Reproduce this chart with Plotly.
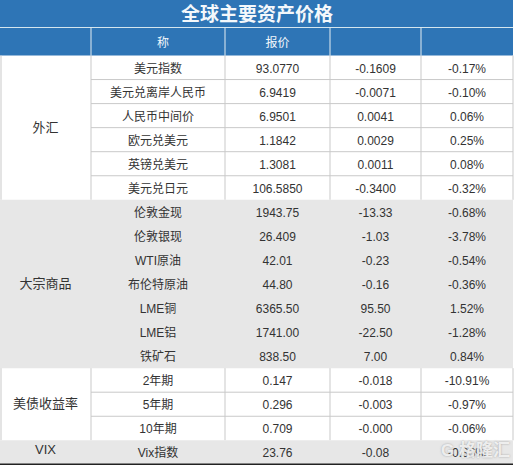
import plotly.graph_objs as go

groups = ['外汇', '大宗商品', '美债收益率', 'VIX']
group_sizes = [6, 7, 3, 1]
names = ['美元指数', '美元兑离岸人民币', '人民币中间价', '欧元兑美元', '英镑兑美元', '美元兑日元',
         '伦敦金现', '伦敦银现', 'WTI原油', '布伦特原油', 'LME铜', 'LME铝', '铁矿石',
         '2年期', '5年期', '10年期', 'Vix指数']
prices = ['93.0770', '6.9419', '6.9501', '1.1842', '1.3081', '106.5850',
          '1943.75', '26.409', '42.01', '44.80', '6365.50', '1741.00', '838.50',
          '0.147', '0.296', '0.709', '23.76']
changes = ['-0.1609', '-0.0071', '0.0041', '0.0029', '0.0011', '-0.3400',
           '-13.33', '-1.03', '-0.23', '-0.16', '95.50', '-22.50', '7.00',
           '-0.018', '-0.003', '-0.000', '-0.08']
pcts = ['-0.17%', '-0.10%', '0.06%', '0.25%', '0.08%', '-0.32%',
        '-0.68%', '-3.78%', '-0.54%', '-0.36%', '1.52%', '-1.28%', '0.84%',
        '-10.91%', '-0.97%', '-0.06%', '-0.33%']
title = '全球主要资产价格'
header = ['称', '报价']

FONT = 'Liberation Sans, Noto Sans CJK SC'
BLUE = '#2e75b6'
GRAY = '#e7e7e7'
LINE = '#c9c9c9'
TEXT = '#333333'
col_x = [0, 91, 225, 330, 421, 513]
title_h = 27.5
head_h = 28
top = title_h + head_h
row_h = 24.05
text_shift = 2  # text sits a little low in its cell


def cx(i):
    return (col_x[i] + col_x[i + 1]) / 2


def row_y(i):
    return top + row_h * i


shapes = []


def rect(x0, x1, y0, y1, color):
    shapes.append(dict(type='rect', x0=x0, x1=x1, y0=y0, y1=y1, fillcolor=color,
                       line=dict(width=0), layer='below'))


def hline(x0, x1, y, color=LINE, width=1):
    shapes.append(dict(type='line', x0=x0, x1=x1, y0=y, y1=y, line=dict(color=color, width=width), layer='below'))


def vline(x, y0, y1, color=LINE, width=1):
    shapes.append(dict(type='line', x0=x, x1=x, y0=y0, y1=y1, line=dict(color=color, width=width), layer='below'))


# title and header bands
rect(0, 513, 0, top, BLUE)
hline(0, 513, title_h, '#d5e6ee', 1)
for x in col_x[1:5]:
    vline(x, title_h, top, '#e4eef2', 1)

# body, the gray groups have no grid lines
group_x, group_y = [], []
start = 0
for g, size in enumerate(group_sizes):
    y0, y1 = row_y(start), row_y(start + size)
    if g % 2 == 1:
        rect(0, 513, y0, y1, GRAY)
    else:
        for r in range(1, size):
            hline(col_x[1], col_x[5], row_y(start + r))
        for x in [1] + col_x[1:5] + [513]:
            vline(x, y0, y1)
    group_x.append(cx(0))
    group_y.append((y0 + y1) / 2 + 1)
    start += size
hline(0, 513, row_y(len(names)), '#222222', 1.5)

row_centers = [row_y(i) + row_h / 2 + text_shift for i in range(len(names))]
group_y[-1] -= 3

fig = go.Figure()
fig.add_trace(go.Scatter(x=group_x, y=group_y, text=groups, mode='text', cliponaxis=False,
                         textfont=dict(family=FONT, size=13, color=TEXT)))
for i, col in enumerate([names, prices, changes, pcts]):
    fig.add_trace(go.Scatter(x=[cx(i + 1)] * len(col), y=row_centers, text=col, mode='text', cliponaxis=False,
                             textfont=dict(family=FONT, size=12, color=TEXT)))
fig.add_trace(go.Scatter(x=[cx(1) + 5, cx(2)], y=[title_h + head_h / 2 + text_shift] * 2, text=header, mode='text',
                         textfont=dict(family=FONT, size=12, color='#f2f7fb')))
fig.add_trace(go.Scatter(x=[257], y=[title_h / 2 + text_shift], text=['<b>' + title + '</b>'], mode='text',
                         cliponaxis=False, textfont=dict(family=FONT, size=19, color='#f4f8fb')))

# watermark
fig.add_annotation(x=475, y=450, text='<b>G 格隆汇</b>', showarrow=False,
                   font=dict(family=FONT, size=17, color='rgba(255,255,255,0.8)',
                             shadow='0px 0px 2px #8a8a8a'))

fig.update_layout(width=514, height=465, margin=dict(l=0, r=0, t=0, b=0),
                  paper_bgcolor='white', plot_bgcolor='white', showlegend=False,
                  shapes=shapes,
                  xaxis=dict(range=[0, 514], visible=False, fixedrange=True),
                  yaxis=dict(range=[465, 0], visible=False, fixedrange=True))

fig.write_html('out.html', config=dict(displayModeBar=False),
               post_script="document.body.style.margin='0';document.body.style.overflow='hidden';")
